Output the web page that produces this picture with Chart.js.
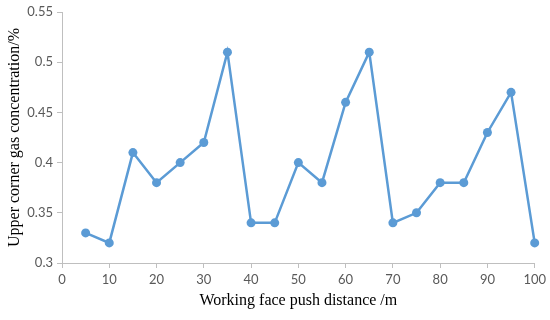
<!DOCTYPE html>
<html>
<head>
<meta charset="utf-8">
<script src="https://cdn.jsdelivr.net/npm/chart.js@4/dist/chart.umd.min.js"></script>
<style>
  html, body { margin: 0; padding: 0; background: #fff; }
  #wrap { width: 550px; height: 320px; }
</style>
</head>
<body>
<div id="wrap"><canvas id="gasChart" width="550" height="320"></canvas></div>
<script>
// push distance (m) and upper corner gas concentration (%)
const distances = [5, 10, 15, 20, 25, 30, 35, 40, 45, 50, 55, 60, 65, 70, 75, 80, 85, 90, 95, 100];
const gasValues = [0.33, 0.32, 0.41, 0.38, 0.40, 0.42, 0.51, 0.34, 0.34, 0.40, 0.38, 0.46, 0.51, 0.34, 0.35, 0.38, 0.38, 0.43, 0.47, 0.32];
const xRange = [0, 100, 10];
const yRange = [0.3, 0.55, 0.05];

const lineColor = '#5b9bd5';
const axisColor = '#bfbfbf';
const tickFont = { family: 'Lato, "Open Sans", sans-serif', size: 13 };
const titleFont = { family: '"Liberation Serif", "Times New Roman", serif', size: 16 };

new Chart(document.getElementById('gasChart'), {
    type: 'line',
    data: {
        datasets: [{
            data: distances.map((d, i) => ({ x: d, y: gasValues[i] })),
            borderColor: lineColor,
            backgroundColor: lineColor,
            borderWidth: 2.5,
            pointRadius: 4.5,
            pointBackgroundColor: lineColor,
            pointBorderWidth: 0,
            tension: 0,
            clip: false
        }]
    },
    options: {
        responsive: false,
        animation: false,
        layout: { padding: { left: 0, right: 15, top: 12, bottom: 0 } },
        plugins: { legend: { display: false }, tooltip: { enabled: false } },
        scales: {
            x: {
                type: 'linear',
                min: xRange[0], max: xRange[1],
                afterFit: s => { s.height = 57; },
                border: { display: true, color: axisColor, width: 1 },
                grid: { drawOnChartArea: false, drawTicks: true, tickLength: 5, color: axisColor },
                ticks: { stepSize: xRange[2], color: '#595959', font: tickFont, padding: 4, maxRotation: 0 },
                title: { display: true, text: 'Working face push distance /m', color: '#000', font: titleFont, padding: { top: 10, bottom: 10 } }
            },
            y: {
                min: yRange[0], max: yRange[1],
                afterFit: s => { s.width = 62; },
                border: { display: true, color: axisColor, width: 1 },
                grid: { drawOnChartArea: false, drawTicks: true, tickLength: 5, color: axisColor },
                ticks: {
                    stepSize: yRange[2], color: '#595959', font: tickFont, padding: 4,
                    callback: v => String(parseFloat(v.toFixed(2)))
                },
                title: { display: true, text: 'Upper corner gas concentration/%', color: '#000', font: titleFont, padding: { top: 5, bottom: 5 } }
            }
        }
    }
});
</script>
</body>
</html>
